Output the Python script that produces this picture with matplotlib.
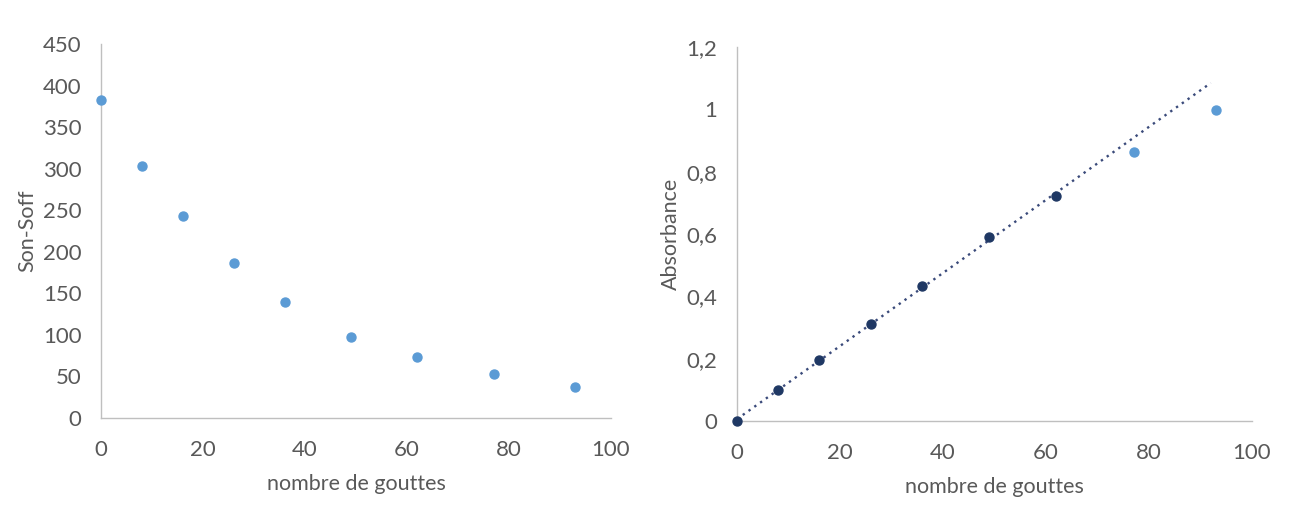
import numpy as np
import matplotlib
matplotlib.use("Agg")
import matplotlib.pyplot as plt
from matplotlib.ticker import FuncFormatter

# --- Data ---
gouttes = [0, 8, 16, 26, 36, 49, 62, 77, 93]
son_soff = [383, 303, 243, 186, 140, 98, 73, 53, 37]

# absorbance: dark points used for the linear trendline, light points excluded
gouttes_fit = [0, 8, 16, 26, 36, 49, 62]
abs_fit = [0.0, 0.10, 0.197, 0.31, 0.433, 0.59, 0.722]
gouttes_out = [77, 93]
abs_out = [0.862, 0.998]
trend_end = 92

LIGHT = "#5B9BD5"
DARK = "#1F3864"
TREND = "#3A4A7A"
AXIS_C = "#BFBFBF"
TXT = "#595959"

plt.rcParams["font.family"] = ["Lato", "DejaVu Sans"]

fig = plt.figure(figsize=(13.09, 5.15), dpi=100, facecolor="white")
ax1 = fig.add_axes([101/1309, 1-418/515, (611-101)/1309, (418-44)/515])
ax2 = fig.add_axes([737/1309, 1-421/515, (1252-737)/1309, (421-47)/515])

def style(ax):
    for s in ("top", "right"):
        ax.spines[s].set_visible(False)
    for s in ("left", "bottom"):
        ax.spines[s].set_color(AXIS_C)
        ax.spines[s].set_linewidth(1.0)
    ax.tick_params(length=0, colors=TXT, labelsize=16)
    ax.tick_params(axis="y", pad=14)
    ax.tick_params(axis="x", pad=16)
    ax.set_xlim(0, 100)
    ax.set_xticks(range(0, 101, 20))
    ax.set_xlabel("nombre de gouttes", color=TXT, fontsize=15.5, labelpad=10)

# --- Left: Son-Soff ---
style(ax1)
ax1.scatter(gouttes, son_soff, s=42, color=LIGHT, zorder=3, clip_on=False)
ax1.set_ylim(0, 450)
ax1.set_yticks(range(0, 451, 50))
ax1.set_ylabel("Son-Soff", color=TXT, fontsize=15.5, labelpad=4)

# --- Right: Absorbance ---
style(ax2)
coef = np.polyfit(gouttes_fit, abs_fit, 1)
xt = np.array([0, trend_end])
ax2.plot(xt, np.polyval(coef, xt), color=TREND, linestyle=(0, (1, 2)),
         linewidth=1.7, zorder=2)
ax2.scatter(gouttes_fit, abs_fit, s=42, color=DARK, zorder=3, clip_on=False)
ax2.scatter(gouttes_out, abs_out, s=42, color=LIGHT, zorder=3, clip_on=False)
ax2.set_ylim(0, 1.2)
ax2.set_yticks(np.arange(0, 1.21, 0.2))
ax2.yaxis.set_major_formatter(FuncFormatter(
    lambda v, p: ("%g" % round(v, 1)).replace(".", ",")))
ax2.set_ylabel("Absorbance", color=TXT, fontsize=15.5, labelpad=4)

plt.savefig("out.png", dpi=100, facecolor="white")
